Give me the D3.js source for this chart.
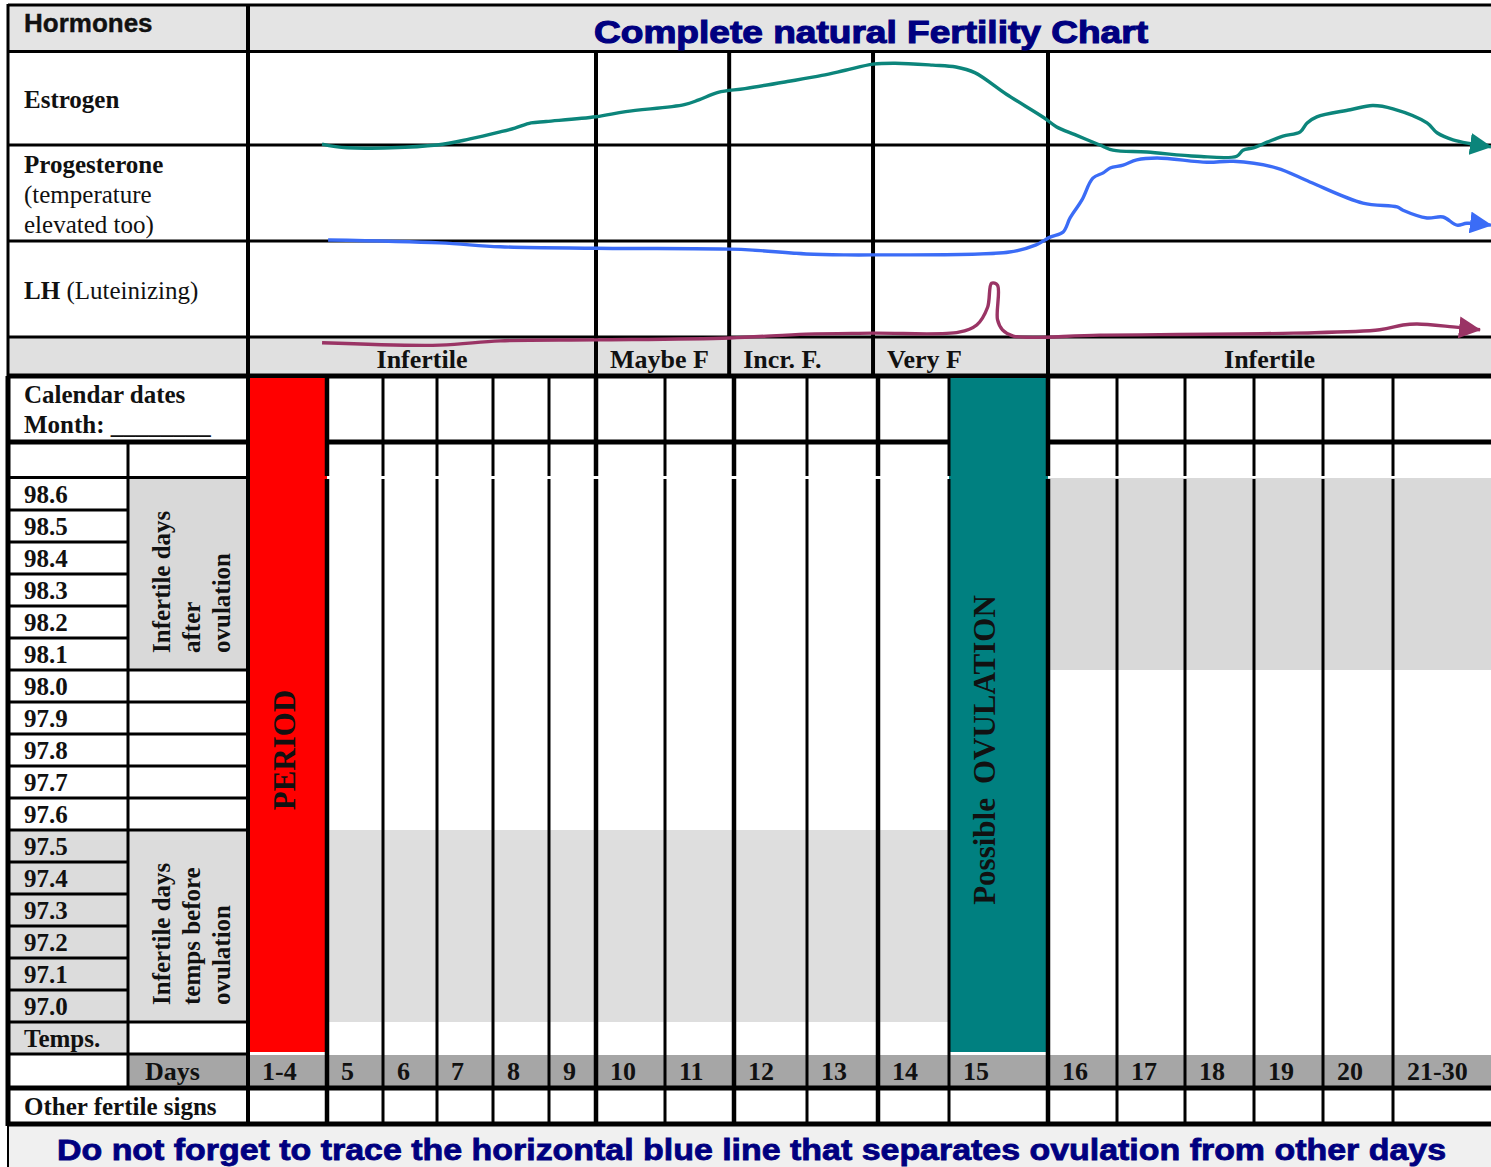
<!DOCTYPE html>
<html>
<head>
<meta charset="utf-8">
<script src="https://cdnjs.cloudflare.com/ajax/libs/d3/7.8.5/d3.min.js"></script>
<style>
  body { margin: 0; background: #fff; }
  svg { display: block; }
  .serif { font-family: "Liberation Serif", "Times New Roman", serif; font-weight: bold; fill: #111; }
  .sans { font-family: "Liberation Sans", Arial, sans-serif; font-weight: bold; }
</style>
</head>
<body>
<div id="chart"></div>
<script>
// chart values
var dayLabels = ["1-4","5","6","7","8","9","10","11","12","13","14","15","16","17","18","19","20","21-30"];
var dayBounds = [1,5,6,7,8,9,10,11,12,13,14,15,16,17,18,19,20,21,31];   // cycle day at each column edge
var tempLabels = ["98.6","98.5","98.4","98.3","98.2","98.1","98.0","97.9","97.8","97.7","97.6","97.5","97.4","97.3","97.2","97.1","97.0"];
var postOvulationTemps = ["98.6","98.5","98.4","98.3","98.2","98.1"];
var preOvulationTemps = ["97.5","97.4","97.3","97.2","97.1","97.0"];
var phaseLabels = ["Infertile","Maybe F","Incr. F.","Very F","Infertile"];
var phaseBounds = [1,10,11.93,13.93,16,31];
var periodDays = [1,5];
var ovulationDays = [15,16];
var preShadeDays = [5,15];
var postShadeDays = [16,31];

// hormone curves: [cycle day, level in % of its row height]
var estrogen = [[4.75,1],[5.36,-3],[7.0,0],[7.59,6.5],[8.13,14],[8.39,18],[8.68,23.5],[8.95,25],[10.0,30],[10.43,35.5],
  [11.28,43],[11.49,48],[11.77,56],[12.15,60],[12.73,67.5],[13.21,74],[13.54,79.5],[13.93,86],[14.24,87],[14.77,85],
  [15.07,83],[15.26,77],[15.58,54],[15.96,29],[16.12,19.5],[16.39,11],[16.75,0],[16.94,-5.5],[17.44,-7.5],[18.17,-12],
  [18.75,-12],[18.84,-5.5],[18.99,-3],[19.19,3],[19.42,9.5],[19.67,14],[19.77,23.5],[19.91,30],[20.39,37.5],[20.71,42],
  [21.0,38.5],[24.47,23.5],[25.49,13],[27.12,5.5],[31,-2]];
var progesterone = [[5.02,1],[7.05,-2],[8.13,-6],[10,-7.5],[11.94,-8.5],[12.26,-9.5],[12.99,-13.5],[13.54,-14.5],[13.93,-14.5],
  [15.61,-11.5],[15.88,-4],[16.03,4],[16.22,9.5],[16.32,24],[16.49,42.5],[16.65,65.5],[16.80,71],[16.90,76],[17.09,79],
  [17.29,84.5],[17.59,86.5],[18.32,82],[18.70,83],[19.33,76],[19.81,61.5],[20.57,39.5],[21.41,35.5],[22.02,32],[24.47,24],
  [26.10,25],[27.53,16.5],[28.55,18.5],[31,16.5]];
var lh = [[4.75,-6],[7.05,-8.5],[8.13,-4],[10,-3],[11.94,-1],[12.99,3],[13.93,4],[15.10,5],[15.28,12.5],[15.39,31],
  [15.43,56],[15.49,54],[15.49,18],[15.54,7.5],[15.65,1],[16.75,2],[19.57,4],[20.81,7.5],[22.02,12.5],[23.45,13.5],
  [27.12,10.5],[29.88,7.5]];

// layout
var W = 1491, H = 1167;
var colX = [248,327,383,437,493,549,596,665,734,807,878,949,1048,1117,1185,1254,1323,1393,1491];
var thickDays = [5,10,12,14,16];

var svg = d3.select("#chart").append("svg")
    .attr("width", W)
    .attr("height", H);

var x = d3.scaleLinear().domain(dayBounds).range(colX);
var tempY = d3.scaleBand().domain(tempLabels.concat(["Temps."])).range([478, 1054]);
var bw = tempY.bandwidth();

var hormoneRows = [
  {name: "estrogen", data: estrogen, top: 51, bottom: 145, color: "#0c857b"},
  {name: "progesterone", data: progesterone, top: 145, bottom: 241, color: "#3b6cf6"},
  {name: "lh", data: lh, top: 241, bottom: 337, color: "#9a3465"}
];

function rect(x0, y0, x1, y1, fill) {
  return svg.append("rect").attr("x", x0).attr("y", y0)
    .attr("width", x1 - x0).attr("height", y1 - y0).attr("fill", fill);
}
function seg(x1, y1, x2, y2, w) {
  return svg.append("line").attr("x1", x1).attr("y1", y1).attr("x2", x2).attr("y2", y2)
    .attr("stroke", "#000").attr("stroke-width", w);
}
function txt(s, tx, ty, size, cls) {
  return svg.append("text").attr("class", cls || "serif").attr("x", tx).attr("y", ty)
    .attr("font-size", size).text(s);
}

// backgrounds
rect(8, 5, W, 51, "#e4e4e4");
rect(8, 337, W, 376, "#e0e0e0");
rect(8, 1126, W, H, "#f0f0f0");
rect(x(preShadeDays[0]), tempY(preOvulationTemps[0]), x(preShadeDays[1]), tempY(preOvulationTemps[5]) + bw, "#dedede");
rect(x(postShadeDays[0]), tempY(postOvulationTemps[0]), x(postShadeDays[1]), tempY(postOvulationTemps[5]) + bw, "#d9d9d9");
preOvulationTemps.concat(["Temps."]).forEach(function(t) { rect(8, tempY(t), 128, tempY(t) + bw, "#dcdcdc"); });
rect(128, tempY(postOvulationTemps[0]), 248, tempY(postOvulationTemps[5]) + bw, "#d9d9d9");
rect(128, tempY(preOvulationTemps[0]), 248, tempY(preOvulationTemps[5]) + bw, "#dcdcdc");
rect(128, 1055, W, 1086, "#a6a6a6");

// horizontal rules
seg(8, 5, W, 5, 3);
seg(8, 51.5, W, 51.5, 3);
seg(8, 145, W, 145, 3);
seg(8, 241, W, 241, 3);
seg(8, 337, W, 337, 3);
seg(8, 376, W, 376, 5);
seg(8, 442, W, 442, 5);
seg(8, 477.5, 248, 477.5, 3);
tempLabels.concat(["Temps."]).forEach(function(t, i) {
  if (i === 0) return;
  var yy = tempY(t);
  var inBox = (postOvulationTemps.indexOf(t) > 0) || (preOvulationTemps.indexOf(t) > 0);
  seg(8, yy, inBox ? 128 : 248, yy, 3);
});
seg(8, 1054, 248, 1054, 3);
seg(8, 1088, W, 1088, 5);
seg(8, 1124, W, 1124, 5);

// period and ovulation columns
rect(x(periodDays[0]), 378, x(periodDays[1]), 1052, "#ff0000");
rect(x(ovulationDays[0]), 378, x(ovulationDays[1]), 1052, "#008080");

// vertical rules
seg(8, 4, 8, 376, 3);
seg(8, 376, 8, 1126, 5);
seg(8, 1126, 8, H, 2);
seg(128, 444, 128, 1088, 3);
seg(248, 4, 248, 1126, 4);
phaseBounds.slice(1, -1).forEach(function(d) { seg(x(d), 51, x(d), 376, 4); });
dayBounds.slice(1, -1).forEach(function(d) {
  var w = thickDays.indexOf(d) >= 0 ? 4.5 : 3;
  seg(x(d), 378, x(d), 476, w);
  seg(x(d), 479, x(d), 1126, w);
});

// header texts
txt("Hormones", 24, 32, 26, "sans").attr("fill", "#111").attr("stroke", "#111").attr("stroke-width", 0.4);
txt("Complete natural Fertility Chart", 594, 43, 31, "sans")
  .attr("fill", "#000080").attr("stroke", "#000080").attr("stroke-width", 1.1)
  .attr("textLength", 554).attr("lengthAdjust", "spacingAndGlyphs");

txt("Estrogen", 24, 108, 25);
txt("Progesterone", 24, 173, 25);
txt("(temperature", 24, 203, 25).style("font-weight", "normal");
txt("elevated too)", 24, 233, 25).style("font-weight", "normal");
var lhLabel = txt("LH", 24, 299, 25);
lhLabel.append("tspan").style("font-weight", "normal").text(" (Luteinizing)");

// phase labels
phaseLabels.forEach(function(p, i) {
  var x0 = x(phaseBounds[i]), x1 = x(phaseBounds[i + 1]);
  var centered = (p === "Infertile");
  txt(p, centered ? (x0 + x1) / 2 : x0 + 14, 368, 26)
    .attr("text-anchor", centered ? "middle" : "start");
});

// left table texts
txt("Calendar dates", 24, 403, 25);
txt("Month: ________", 24, 433, 25);
tempLabels.concat(["Temps."]).forEach(function(t) { txt(t, 24, tempY(t) + 25, 25); });
txt("Days", 145, 1080, 26);
txt("Other fertile signs", 24, 1115, 25);

function rotated(lines, yStart) {
  lines.forEach(function(s, i) {
    svg.append("text").attr("class", "serif").attr("font-size", 25)
      .attr("transform", "translate(" + (170 + i * 30) + "," + yStart + ") rotate(-90)")
      .text(s);
  });
}
rotated(["Infertile days", "after", "ovulation"], tempY(postOvulationTemps[5]) + bw - 17);
rotated(["Infertile days", "temps before", "ovulation"], tempY(preOvulationTemps[5]) + bw - 17);

// day numbers
dayLabels.forEach(function(d, i) {
  txt(d, x(dayBounds[i]) + 14, 1080, 26);
});

// vertical labels in the colored columns
svg.append("text").attr("class", "serif").attr("font-size", 31).attr("text-anchor", "middle")
  .attr("fill", "#1a1a1a")
  .attr("transform", "translate(" + (x(periodDays[1]) - 32) + ",750) rotate(-90)")
  .text("PERIOD");
var ov = svg.append("text").attr("class", "serif").attr("font-size", 31).attr("text-anchor", "middle")
  .attr("fill", "#111")
  .attr("transform", "translate(" + (x(ovulationDays[0]) + 46) + ",750) rotate(-90)");
ov.append("tspan").text("Possible");
ov.append("tspan").attr("dx", 14).text("OVULATION");

// footer
txt("Do not forget to trace the horizontal blue line that separates ovulation from other days", 57, 1160, 29, "sans")
  .attr("fill", "#000080").attr("stroke", "#000080").attr("stroke-width", 0.8)
  .attr("textLength", 1389).attr("lengthAdjust", "spacingAndGlyphs");

// hormone curves with arrow heads
var defs = svg.append("defs");
hormoneRows.forEach(function(r) {
  defs.append("marker")
    .attr("id", "arrow-" + r.name)
    .attr("markerUnits", "userSpaceOnUse")
    .attr("viewBox", "0 0 22 22")
    .attr("markerWidth", 22).attr("markerHeight", 22)
    .attr("refX", 21).attr("refY", 11)
    .attr("orient", "auto")
    .append("path").attr("d", "M0,0 L22,11 L0,22 Z").attr("fill", r.color);

  var yScale = d3.scaleLinear().domain([0, 100]).range([r.bottom, r.top]);
  var path = d3.line()
    .x(function(d) { return x(d[0]); })
    .y(function(d) { return yScale(d[1]); })
    .curve(d3.curveCatmullRom.alpha(0.5));

  svg.append("path")
    .datum(r.data)
    .attr("d", path)
    .attr("fill", "none")
    .attr("stroke", r.color)
    .attr("stroke-width", 3.4)
    .attr("stroke-linejoin", "round")
    .attr("marker-end", "url(#arrow-" + r.name + ")");
});
</script>
</body>
</html>
